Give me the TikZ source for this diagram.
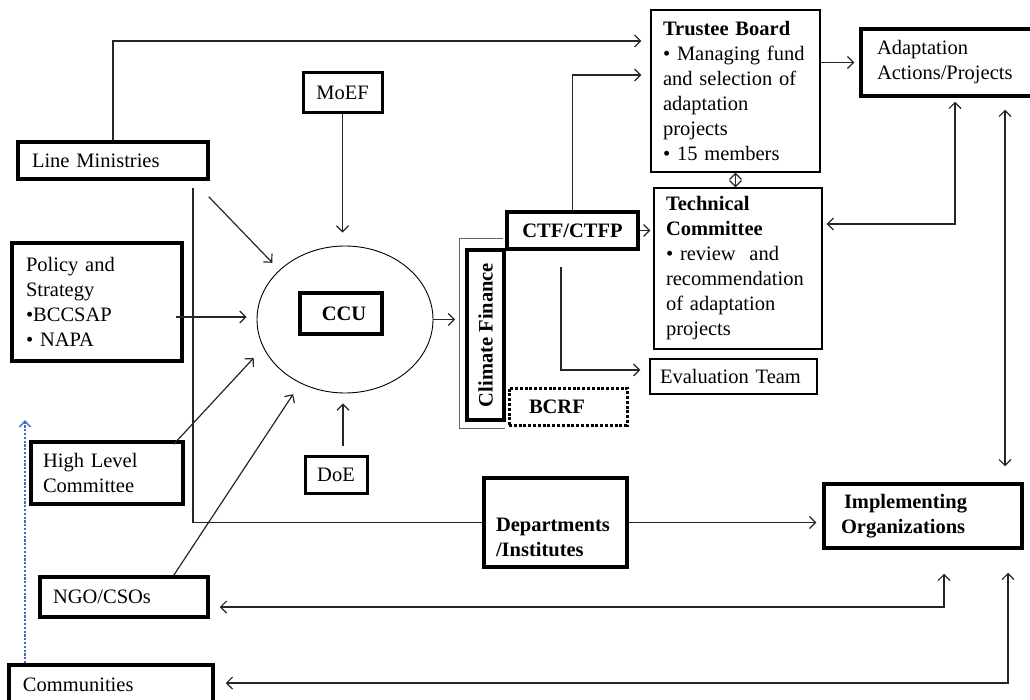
\documentclass[tikz,border=0pt]{standalone}
\usepackage{fontspec}
\setmainfont{Liberation Serif}
\usetikzlibrary{arrows.meta,calc,shapes.geometric}
\begin{document}
\begin{tikzpicture}[x=1pt,y=-1pt,
  every node/.style={font=\fontsize{20.5}{25}\selectfont},
  thinbox/.style={draw, line width=1.2pt, rectangle, align=left, inner ysep=0pt},
  thickbox/.style={draw, line width=3.5pt, rectangle, align=left, inner ysep=0pt},
  ln/.style={line width=1.2pt, draw=black!85},
  arr/.style={ln, -{Straight Barb[length=6pt,width=12pt]}},
  dbl/.style={ln, {Straight Barb[length=6pt,width=12pt]}-{Straight Barb[length=6pt,width=12pt]}},
  bluearr/.style={line width=1.4pt, draw={rgb,255:red,68;green,108;blue,196}, dash pattern=on 2.2pt off 1.6pt, -{Straight Barb[length=6pt,width=11pt]}},
]
\useasboundingbox (0,0) rectangle (1030,700);

% ---------- nodes ----------
\node[thinbox, minimum width=169pt, minimum height=162pt, text width=145pt, inner xsep=12pt] (tb) at (735.5,91)
  {\textbf{Trustee Board}\\• Managing fund\\and selection of\\adaptation\\projects\\• 15 members};
\node[thickbox, minimum width=173pt, minimum height=67pt, text width=141pt, inner xsep=16pt] (aa) at (947.5,62.5)
  {Adaptation\\Actions/Projects};
\node[thinbox, minimum width=168pt, minimum height=161pt, text width=144pt, inner xsep=12pt] (tc) at (738,268.5)
  {\textbf{Technical}\\\textbf{Committee}\\• review~ and\\recommendation\\of adaptation\\projects};
\node[thinbox, minimum width=167pt, minimum height=35pt, text width=147pt, inner xsep=10pt] (ev) at (733.5,376.5)
  {Evaluation Team};
\node[thickbox, align=center, minimum width=131pt, minimum height=37pt, text width=111pt, inner xsep=10pt] (ctf) at (572.5,230.5)
  {\textbf{CTF/CTFP}};
\node[thickbox, align=center, rotate=90, minimum width=170pt, minimum height=37pt, inner xsep=2pt] (cf) at (485.5,335)
  {\textbf{Climate Finance}};
\node[draw, line width=3pt, dash pattern=on 3pt off 1.8pt, rectangle, align=left, inner ysep=0pt,
  minimum width=118pt, minimum height=37pt, text width=78pt, inner xsep=20pt] (bcrf) at (568,406.5)
  {\textbf{BCRF}};
\node[draw, ellipse, line width=0.9pt, minimum width=176pt, minimum height=147pt, inner sep=0pt] (ccu) at (345,319.5) {};
\node[thickbox, align=center, minimum width=82pt, minimum height=41pt, inner xsep=4pt] (ccub) at (341,313.5)
  {\hspace*{6pt}\textbf{CCU}};
\node[draw, line width=3pt, rectangle, minimum width=79pt, minimum height=40pt, inner sep=0pt] (moef) at (342.5,93) {MoEF};
\node[draw, line width=3pt, rectangle, minimum width=62pt, minimum height=37pt, inner sep=0pt] (doe) at (336,474.5) {DoE};
\node[thickbox, minimum width=190pt, minimum height=37pt, text width=162pt, inner xsep=14pt] (lm) at (113,160.5)
  {Line Ministries};
\node[thickbox, minimum width=170pt, minimum height=118pt, text width=142pt, inner xsep=14pt] (ps) at (97,302)
  {Policy and\\Strategy\\•BCCSAP\\• NAPA};
\node[thickbox, minimum width=152pt, minimum height=62pt, text width=128pt, inner xsep=12pt] (hl) at (107,473)
  {High Level\\Committee};
\node[thickbox, minimum width=168pt, minimum height=40pt, text width=142pt, inner xsep=13pt] (ngo) at (124,597)
  {NGO/CSOs};
\node[thickbox, minimum width=204pt, minimum height=40pt, text width=176pt, inner xsep=14pt] (com) at (111,685)
  {Communities};
\node[thickbox, minimum width=143pt, minimum height=89pt, text width=119pt, inner xsep=12pt] (dep) at (555.5,522.5)
  {\rule{0pt}{44pt}\textbf{Departments}\\\textbf{/Institutes}};
\node[thickbox, minimum width=198pt, minimum height=64pt, text width=164pt, inner xsep=17pt] (io) at (923,516)
  {\hspace*{3pt}\textbf{Implementing}\\\textbf{Organizations}};

% ---------- helper coordinates ----------
\coordinate (evs) at (561,267);
\coordinate (vl) at (193,188);
\coordinate (brt) at (459,239);
\coordinate (blt) at (25,420);
\coordinate (lms) at ($(lm.south east)+(-1,16)$);
\coordinate (pss) at ([shift={(-8,15)}]ps.east);
\coordinate (hls) at ([xshift=-11pt, yshift=-4pt]hl.north east);
\coordinate (ngs) at ([xshift=-36pt]ngo.north east);
\coordinate (ds) at ([xshift=7pt, yshift=9pt]doe.north);

% ---------- connectors ----------
\draw[arr, shorten >=9pt] (lm.north) |- (tb.west |- 0,41);
\draw[arr, shorten >=9pt] (ctf.north) |- (tb.west |- 0,75);
\draw[arr, shorten >=3pt] (ctf.east) -- (ctf.east -| tc.west);
\draw[arr, shorten >=9pt] (evs) |- (ev.west |- 0,370);
\draw[dbl] (tb.south) -- (tb.south |- tc.north);
\draw[arr, shorten >=5pt] (tb.east |- aa.west) -- (aa.west);
\draw[dbl, shorten <=4pt, shorten >=4pt] (aa.south -| 955,0) |- (tc.east |- 0,224);
\draw[dbl, shorten <=12pt, shorten >=16pt] (aa.south -| 1005,0) -- (io.north -| 1005,0);
\draw[dbl, shorten <=24pt, shorten >=10pt] (io.south -| 944,0) |- (ngo.east |- 0,607);
\draw[dbl, shorten <=23pt, shorten >=11pt] (io.south -| 1008,0) |- (com.east |- 0,683);
\draw[ln] (vl) |- (dep.west);
\draw[arr, shorten >=6pt] (dep.east) -- (dep.east -| io.west);
\draw[arr, shorten >=10pt] (lms) -- (ccu.143);
\draw[arr, shorten >=10pt] (pss) -- (pss -| ccu.west);
\draw[arr, shorten >=14pt] (hls) -- (ccu.199);
\draw[arr, shorten >=13pt] (ngs) -- (ccu.235);
\draw[arr, shorten >=13pt] (moef.south) -- (moef.south |- ccu.north);
\draw[arr, shorten >=10pt] (ds) -- (ds |- ccu.south);
\draw[arr, shorten >=4pt] (ccu.east) -- (ccu.east -| brt);
\draw[line width=1pt, draw=black!60] (503,239) -- (brt) -- (459,428) -- (505,428);
\draw[bluearr] (com.north -| blt) -- (blt);
\end{tikzpicture}
\end{document}
